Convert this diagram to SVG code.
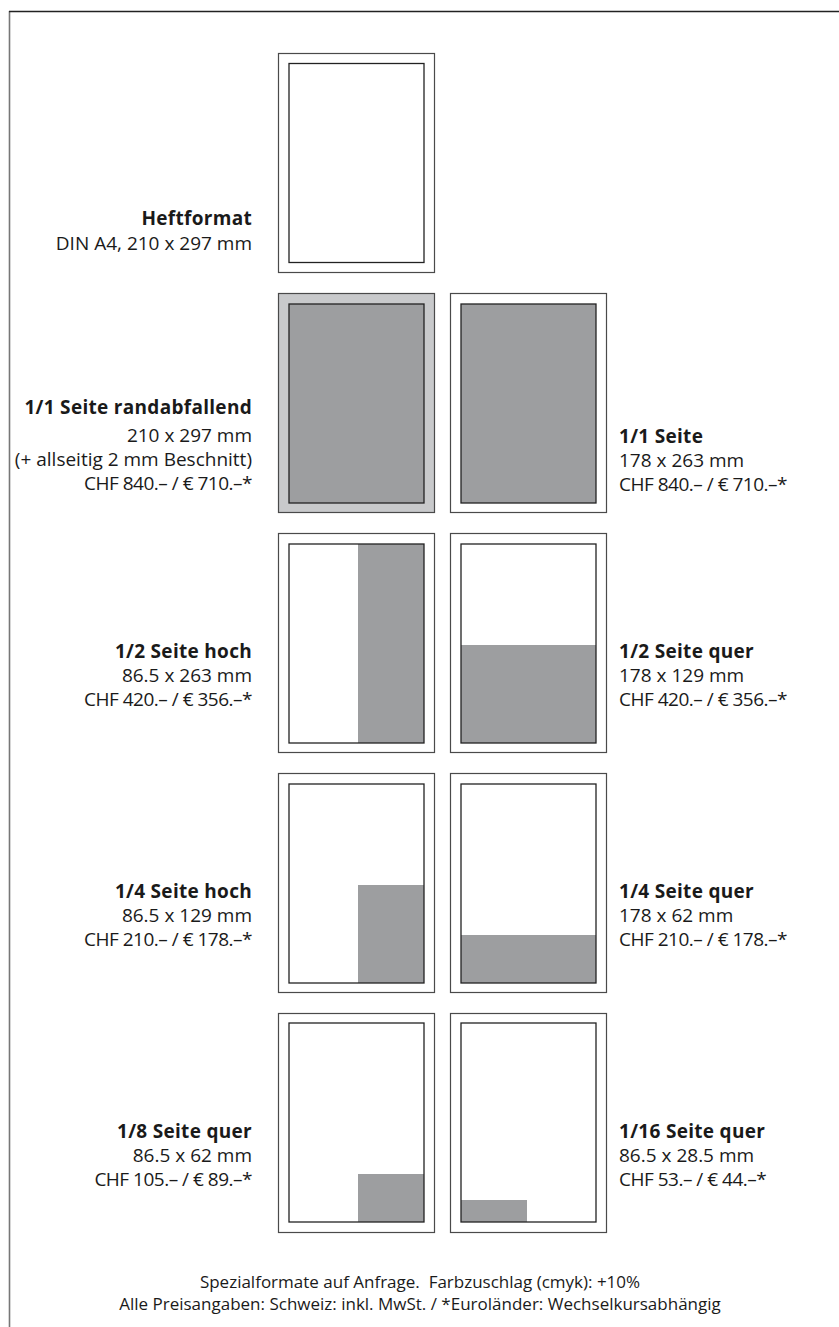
<svg xmlns="http://www.w3.org/2000/svg" width="839" height="1327" viewBox="0 0 839 1327">
<style>
.bg{fill:#ffffff}
.outer{fill:#ffffff;stroke:#4a4a4a;stroke-width:1.2}
.inner{fill:none;stroke:#222222;stroke-width:1.3}
.ad{fill:#9d9ea0}
.bleed{fill:#c8c9cb}
text{font-family:"Open Sans","Liberation Sans",sans-serif;font-size:19px;fill:#1a1a1a}
.b{font-weight:bold;letter-spacing:0.3px}
.p{letter-spacing:-0.5px}
.l{text-anchor:end}
.c{text-anchor:middle;font-size:17px}
</style>
<rect class="bg" x="0" y="0" width="839" height="1327"/>
<g id="frame">
<line x1="9.5" y1="11" x2="9.5" y2="1327" stroke="#777" stroke-width="1.6"/>
<line x1="9" y1="11.5" x2="839" y2="11.5" stroke="#222" stroke-width="1.5"/>
</g>
<g id="connectors"></g>
<g id="heftformat">
<rect class="outer" x="278.5" y="53.5" width="156" height="219"/>
<rect class="inner" x="289" y="63.5" width="135" height="199"/>
<text class="b l" x="252" y="225">Heftformat</text>
<text class="l" x="252" y="250">DIN A4, 210 x 297 mm</text>
</g>
<g id="seite-randabfallend">
<rect class="outer bleed" x="278.5" y="293.5" width="156" height="219"/>
<rect class="ad" x="289" y="304" width="135" height="199"/>
<rect class="inner" x="289" y="304" width="135" height="199"/>
<text class="b l" x="252" y="414">1/1 Seite randabfallend</text>
<text class="l" x="252" y="442">210 x 297 mm</text>
<text class="l" x="252" y="466">(+ allseitig 2 mm Beschnitt)</text>
<text class="l p" x="252" y="490">CHF 840.– / € 710.–*</text>
</g>
<g id="seite-1-1">
<rect class="outer" x="450.5" y="293.5" width="156" height="219"/>
<rect class="ad" x="461" y="304" width="135" height="199"/>
<rect class="inner" x="461" y="304" width="135" height="199"/>
<text class="b" x="619" y="443">1/1 Seite</text>
<text x="619" y="467">178 x 263 mm</text>
<text class="p" x="619" y="491">CHF 840.– / € 710.–*</text>
</g>
<g id="halb-hoch">
<rect class="outer" x="278.5" y="533.5" width="156" height="219"/>
<rect class="ad" x="358" y="544" width="66" height="199"/>
<rect class="inner" x="289" y="544" width="135" height="199"/>
<text class="b l" x="252" y="658">1/2 Seite hoch</text>
<text class="l" x="252" y="682">86.5 x 263 mm</text>
<text class="l p" x="252" y="706">CHF 420.– / € 356.–*</text>
</g>
<g id="halb-quer">
<rect class="outer" x="450.5" y="533.5" width="156" height="219"/>
<rect class="ad" x="461" y="645" width="135" height="98"/>
<rect class="inner" x="461" y="544" width="135" height="199"/>
<text class="b" x="619" y="658">1/2 Seite quer</text>
<text x="619" y="682">178 x 129 mm</text>
<text class="p" x="619" y="706">CHF 420.– / € 356.–*</text>
</g>
<g id="viertel-hoch">
<rect class="outer" x="278.5" y="773.5" width="156" height="219"/>
<rect class="ad" x="358" y="885" width="66" height="98"/>
<rect class="inner" x="289" y="784" width="135" height="199"/>
<text class="b l" x="252" y="898">1/4 Seite hoch</text>
<text class="l" x="252" y="922">86.5 x 129 mm</text>
<text class="l p" x="252" y="946">CHF 210.– / € 178.–*</text>
</g>
<g id="viertel-quer">
<rect class="outer" x="450.5" y="773.5" width="156" height="219"/>
<rect class="ad" x="461" y="935" width="135" height="48"/>
<rect class="inner" x="461" y="784" width="135" height="199"/>
<text class="b" x="619" y="898">1/4 Seite quer</text>
<text x="619" y="922">178 x 62 mm</text>
<text class="p" x="619" y="946">CHF 210.– / € 178.–*</text>
</g>
<g id="achtel-quer">
<rect class="outer" x="278.5" y="1013.5" width="156" height="219"/>
<rect class="ad" x="358" y="1174" width="66" height="48"/>
<rect class="inner" x="289" y="1023" width="135" height="199"/>
<text class="b l" x="252" y="1138">1/8 Seite quer</text>
<text class="l" x="252" y="1162">86.5 x 62 mm</text>
<text class="l p" x="252" y="1186">CHF 105.– / € 89.–*</text>
</g>
<g id="sechzehntel-quer">
<rect class="outer" x="450.5" y="1013.5" width="156" height="219"/>
<rect class="ad" x="461" y="1200" width="66" height="22"/>
<rect class="inner" x="461" y="1023" width="135" height="199"/>
<text class="b" x="619" y="1138">1/16 Seite quer</text>
<text x="619" y="1162">86.5 x 28.5 mm</text>
<text class="p" x="619" y="1186">CHF 53.– / € 44.–*</text>
</g>
<g id="footer">
<text class="c" x="420" y="1288" xml:space="preserve">Spezialformate auf Anfrage.  Farbzuschlag (cmyk): +10%</text>
<text class="c" x="420" y="1310">Alle Preisangaben: Schweiz: inkl. MwSt. / *Euroländer: Wechselkursabhängig</text>
</g>
</svg>
